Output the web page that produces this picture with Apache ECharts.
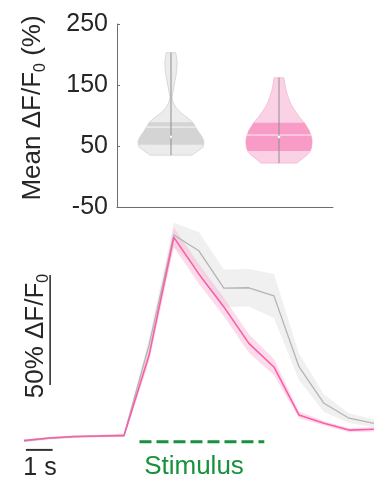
<!DOCTYPE html>
<html><head><meta charset="utf-8">
<script src="https://cdn.jsdelivr.net/npm/echarts@6/dist/echarts.min.js"></script>
<style>html,body{margin:0;padding:0;background:#fff}#c{width:379px;height:480px}</style>
</head><body><div id="c"></div>
<script>
// ---------- top panel: violins ----------
const groups = ['Group 1', 'Group 2'];
const yTicks = [-50, 50, 150, 250];

// violin outline: values (%) and half-widths (fraction of category band)
const grayViolinVal  = [35, 48, 57, 65, 73, 81, 89, 97, 104, 114, 122, 129, 140, 155, 170, 186, 196, 203];
const grayViolinHalf = [0.194, 0.296, 0.306, 0.287, 0.255, 0.227, 0.201, 0.148, 0.093, 0.042, 0.019, 0.009, 0.020, 0.035, 0.051, 0.057, 0.051, 0.044];
const pinkViolinVal  = [22, 30, 35, 41, 47, 55, 60, 68, 76, 89, 97, 106, 114, 122, 132, 142, 152, 162];
const pinkViolinHalf = [0.167, 0.222, 0.259, 0.287, 0.301, 0.306, 0.306, 0.296, 0.278, 0.231, 0.190, 0.155, 0.125, 0.102, 0.081, 0.065, 0.054, 0.044];
// [q1, q3, mean, median]
const grayStats = [52, 89, 81, 65];
const pinkStats = [42, 88, 68, 65];

// ---------- bottom panel: traces ----------
const frameTimes = [0, 0.91, 1.82, 2.73, 3.64, 4.55, 5.45, 6.36, 7.27, 8.18, 9.09, 10.0, 10.91, 11.82, 12.73];
const grayMean = [-0.5, 0.7, 1.4, 1.8, 2.3, 43.2, 93.2, 86.0, 69.0, 69.2, 65.5, 33.3, 16.7, 9.9, 7.6];
const graySem  = [0.6, 0.6, 0.6, 0.6, 0.8, 3.0, 5.5, 8.5, 8.5, 8.5, 10.0, 6.0, 4.0, 2.2, 1.8];
const pinkMean = [-0.2, 0.9, 1.6, 1.8, 2.0, 38.6, 92.1, 75.5, 60.5, 43.9, 33.2, 11.4, 7.6, 4.5, 4.9];
const pinkSem  = [0.5, 0.5, 0.5, 0.5, 0.6, 3.0, 4.5, 4.5, 4.2, 4.2, 3.6, 1.5, 1.0, 1.0, 1.0];
const stimulusWindow = [4.2, 8.74];   // s
const stimulusLevel = -0.8;
const timeBar = [0.07, 1.04];         // 1 s
const timeBarLevel = -4.5;
const ampBar = [25, 75];              // 50 %
const ampBarTime = 0.95;

const violinStyle = [
  {light: '#ececec', edge: '#d2d2d2', dark: '#d4d4d4'},
  {light: '#fbd2e5', edge: '#f3b7d2', dark: '#f99bc7'}
];
const violins = [
  {val: grayViolinVal, half: grayViolinHalf, st: grayStats},
  {val: pinkViolinVal, half: pinkViolinHalf, st: pinkStats}
];

function renderViolin(params, api) {
  const i = params.dataIndex;
  const V = violins[i], S = violinStyle[i];
  const band = api.size([1, 0])[0];
  const P = (v, hw, s) => { const c = api.coord([i, v]); return [c[0] + s * hw * band, c[1]]; };
  const hwAt = v => {
    for (let k = 0; k < V.val.length - 1; k++) {
      if (v >= V.val[k] && v <= V.val[k + 1]) {
        const f = (v - V.val[k]) / (V.val[k + 1] - V.val[k]);
        return V.half[k] + f * (V.half[k + 1] - V.half[k]);
      }
    }
    return 0;
  };
  const outline = [];
  for (let k = 0; k < V.val.length; k++) outline.push(P(V.val[k], V.half[k], -1));
  for (let k = V.val.length - 1; k >= 0; k--) outline.push(P(V.val[k], V.half[k], 1));
  const [q1, q3, mean, median] = V.st;
  const iv = [q1].concat(V.val.filter(v => v > q1 && v < q3), [q3]);
  const iqr = [];
  iv.forEach(v => iqr.push(P(v, hwAt(v), -1)));
  iv.slice().reverse().forEach(v => iqr.push(P(v, hwAt(v), 1)));
  const top = api.coord([i, V.val[V.val.length - 1]]);
  const bot = api.coord([i, V.val[0]]);
  const m1 = P(mean, hwAt(mean), -1), m2 = P(mean, hwAt(mean), 1);
  const md = api.coord([i, median]);
  return {type: 'group', children: [
    {type: 'polygon', shape: {points: outline}, style: {fill: S.light, stroke: S.edge, lineWidth: 0.8}},
    {type: 'polygon', shape: {points: iqr}, style: {fill: S.dark}},
    {type: 'line', shape: {x1: m1[0], y1: m1[1], x2: m2[0], y2: m2[1]}, style: {stroke: '#ffffff', lineWidth: 1, opacity: 0.85}},
    {type: 'line', shape: {x1: bot[0], y1: bot[1], x2: top[0], y2: top[1]}, style: {stroke: '#8e8e8e', lineWidth: 1}},
    {type: 'circle', shape: {cx: md[0], cy: md[1], r: 1.6}, style: {fill: '#ffffff', stroke: '#b0b0b0', lineWidth: 0.5}}
  ]};
}

function bandRenderer(mean, sem, fill, opacity) {
  return function (params, api) {
    if (params.dataIndex !== 0) return null;
    const up = [], lo = [];
    for (let k = 0; k < frameTimes.length; k++) {
      up.push(api.coord([frameTimes[k], mean[k] + sem[k]]));
      lo.push(api.coord([frameTimes[k], mean[k] - sem[k]]));
    }
    return {type: 'polygon', shape: {points: up.concat(lo.reverse())}, style: {fill: fill, opacity: opacity}};
  };
}

const pairs = (xs, ys) => xs.map((x, k) => [x, ys[k]]);
const FONT = 'Liberation Sans, Arial, sans-serif';
const axisGray = '#6e6e6e';

const chart = echarts.init(document.getElementById('c'), null, {renderer: 'canvas'});
chart.setOption({
  animation: false,
  backgroundColor: '#ffffff',
  grid: [
    {left: 117, top: 24, width: 216, height: 183},
    {left: 24, top: 220, width: 350, height: 253}
  ],
  xAxis: [
    {type: 'category', gridIndex: 0, data: groups, boundaryGap: true,
     axisLine: {onZero: false, lineStyle: {color: axisGray, width: 1}},
     axisTick: {inside: true, length: 3, alignWithLabel: true, lineStyle: {color: '#333'}},
     axisLabel: {show: false}, splitLine: {show: false}},
    {type: 'value', gridIndex: 1, min: 0, max: 12.73, show: false}
  ],
  yAxis: [
    {type: 'value', gridIndex: 0, min: -50, max: 250,
     axisLine: {show: true, onZero: false, lineStyle: {color: axisGray, width: 1}},
     axisTick: {show: true, inside: true, length: 3, customValues: yTicks, lineStyle: {color: axisGray}},
     axisLabel: {customValues: yTicks, fontFamily: FONT, fontSize: 25, color: '#262626', margin: 9},
     splitLine: {show: false}},
    {type: 'value', gridIndex: 1, min: -15, max: 100, show: false}
  ],
  series: [
    {type: 'custom', xAxisIndex: 0, yAxisIndex: 0, renderItem: renderViolin,
     data: groups.map((g, i) => [i, violins[i].st[3]]), z: 2},
    {type: 'custom', xAxisIndex: 1, yAxisIndex: 1, renderItem: bandRenderer(grayMean, graySem, '#f0f0f0', 1),
     data: pairs(frameTimes, grayMean), z: 1},
    {type: 'custom', xAxisIndex: 1, yAxisIndex: 1, renderItem: bandRenderer(pinkMean, pinkSem, '#f7a8cb', 0.4),
     data: pairs(frameTimes, pinkMean), z: 2},
    {type: 'line', xAxisIndex: 1, yAxisIndex: 1, data: pairs(frameTimes, grayMean), symbol: 'none',
     lineStyle: {color: '#b4b4b4', width: 1.3}, z: 3},
    {type: 'line', xAxisIndex: 1, yAxisIndex: 1, data: pairs(frameTimes, pinkMean), symbol: 'none',
     lineStyle: {color: '#f95ea8', width: 1.6}, z: 4},
    {type: 'line', xAxisIndex: 1, yAxisIndex: 1, data: [[stimulusWindow[0], stimulusLevel], [stimulusWindow[1], stimulusLevel]],
     symbol: 'none', lineStyle: {color: '#18913c', width: 3, type: [12, 5]}, z: 5},
    {type: 'line', xAxisIndex: 1, yAxisIndex: 1, data: [[timeBar[0], timeBarLevel], [timeBar[1], timeBarLevel]],
     symbol: 'none', lineStyle: {color: '#333333', width: 2}, z: 5},
    {type: 'line', xAxisIndex: 1, yAxisIndex: 1, data: [[ampBarTime, ampBar[0]], [ampBarTime, ampBar[1]]],
     symbol: 'none', lineStyle: {color: '#333333', width: 1.6}, z: 5}
  ],
  graphic: [
    {type: 'text', x: 33, y: 108, rotation: Math.PI / 2,
     style: {text: '{a|Mean ΔF/F}{s|0}{a| (%)}', align: 'center', verticalAlign: 'middle',
       rich: {a: {fontFamily: FONT, fontSize: 26, fill: '#262626', lineHeight: 32},
              s: {fontFamily: FONT, fontSize: 16, fill: '#262626', lineHeight: 14, verticalAlign: 'bottom'}}}},
    {type: 'text', x: 36, y: 336, rotation: Math.PI / 2,
     style: {text: '{a|50% ΔF/F}{s|0}', align: 'center', verticalAlign: 'middle',
       rich: {a: {fontFamily: FONT, fontSize: 26, fill: '#262626', lineHeight: 32},
              s: {fontFamily: FONT, fontSize: 16, fill: '#262626', lineHeight: 14, verticalAlign: 'bottom'}}}},
    {type: 'text', x: 40, y: 468,
     style: {text: '1 s', align: 'center', verticalAlign: 'middle', fontFamily: FONT, fontSize: 25, fill: '#262626'}},
    {type: 'text', x: 194, y: 467,
     style: {text: 'Stimulus', align: 'center', verticalAlign: 'middle', fontFamily: FONT, fontSize: 26, fill: '#18913c'}}
  ]
});
</script>
</body></html>
